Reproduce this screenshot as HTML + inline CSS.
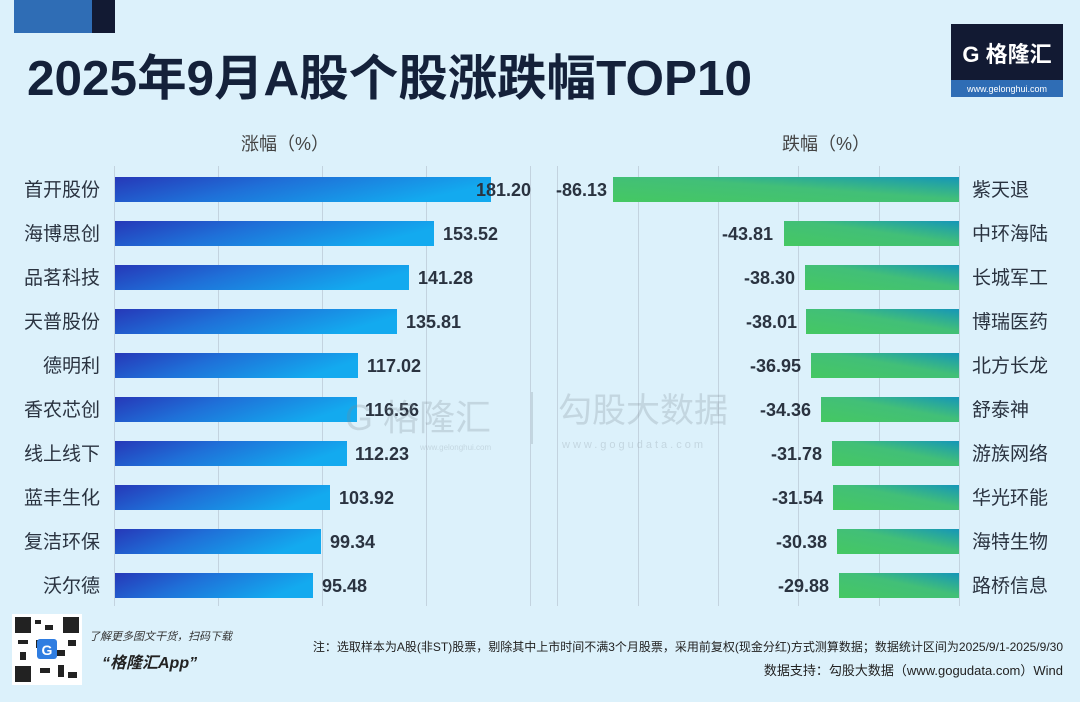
<!DOCTYPE html>
<html><head><meta charset="utf-8"><style>
html,body{margin:0;padding:0;background:#dcf1fb;}
svg{display:block;font-family:"Liberation Sans","Noto Sans CJK SC",sans-serif;}
</style></head><body>
<svg width="1080" height="702" viewBox="0 0 1080 702" xmlns="http://www.w3.org/2000/svg">
<defs>
<linearGradient id="gb" x1="0" y1="0" x2="1" y2="0.3">
<stop offset="0" stop-color="#2638b8"/><stop offset="0.45" stop-color="#1f70d8"/><stop offset="1" stop-color="#13aaef"/></linearGradient>
<linearGradient id="gg" x1="0" y1="1" x2="1" y2="0">
<stop offset="0" stop-color="#45c862"/><stop offset="0.55" stop-color="#42bf78"/><stop offset="1" stop-color="#1596b8"/></linearGradient>
</defs>
<rect width="1080" height="702" fill="#dcf1fb"/>
<rect x="14" y="0" width="78" height="33" fill="#2f6db5"/>
<rect x="92" y="0" width="23" height="33" fill="#121a33"/>
<text x="27" y="95" font-size="49" font-weight="bold" fill="#14213a" textLength="725" lengthAdjust="spacingAndGlyphs">2025年9月A股个股涨跌幅TOP10</text>
<rect x="951" y="24" width="112" height="56" fill="#121a33"/>
<rect x="951" y="80" width="112" height="17" fill="#2f6db5"/>
<text x="1007" y="62" font-size="22" font-weight="bold" fill="#fff" text-anchor="middle">G 格隆汇</text>
<text x="1007" y="92" font-size="9" fill="#fff" text-anchor="middle">www.gelonghui.com</text>
<text x="285" y="150" font-size="18" fill="#444" text-anchor="middle">涨幅（%）</text>
<text x="826" y="150" font-size="18" fill="#444" text-anchor="middle">跌幅（%）</text>
<g stroke="#c3d3df" stroke-width="1">
<line x1="114.5" y1="166" x2="114.5" y2="606"/><line x1="218.5" y1="166" x2="218.5" y2="606"/><line x1="322.5" y1="166" x2="322.5" y2="606"/><line x1="426.5" y1="166" x2="426.5" y2="606"/><line x1="530.5" y1="166" x2="530.5" y2="606"/>
<line x1="557.5" y1="166" x2="557.5" y2="606"/><line x1="638.5" y1="166" x2="638.5" y2="606"/><line x1="718.5" y1="166" x2="718.5" y2="606"/><line x1="798.5" y1="166" x2="798.5" y2="606"/><line x1="879.5" y1="166" x2="879.5" y2="606"/><line x1="959.5" y1="166" x2="959.5" y2="606"/>
</g>
<g font-size="19" fill="#2a3340">
<g text-anchor="end">
<text x="100" y="196">首开股份</text><text x="100" y="240">海博思创</text><text x="100" y="284">品茗科技</text><text x="100" y="328">天普股份</text><text x="100" y="372">德明利</text><text x="100" y="416">香农芯创</text><text x="100" y="460">线上线下</text><text x="100" y="504">蓝丰生化</text><text x="100" y="548">复洁环保</text><text x="100" y="592">沃尔德</text>
</g>
<text x="972" y="196">紫天退</text><text x="972" y="240">中环海陆</text><text x="972" y="284">长城军工</text><text x="972" y="328">博瑞医药</text><text x="972" y="372">北方长龙</text><text x="972" y="416">舒泰神</text><text x="972" y="460">游族网络</text><text x="972" y="504">华光环能</text><text x="972" y="548">海特生物</text><text x="972" y="592">路桥信息</text>
</g>
<g fill="url(#gb)">
<rect x="115" y="177" width="376" height="25"/><rect x="115" y="221" width="319" height="25"/><rect x="115" y="265" width="294" height="25"/><rect x="115" y="309" width="282" height="25"/><rect x="115" y="353" width="243" height="25"/><rect x="115" y="397" width="242" height="25"/><rect x="115" y="441" width="232" height="25"/><rect x="115" y="485" width="215" height="25"/><rect x="115" y="529" width="206" height="25"/><rect x="115" y="573" width="198" height="25"/>
</g>
<g fill="url(#gg)">
<rect x="613" y="177" width="346" height="25"/><rect x="784" y="221" width="175" height="25"/><rect x="805" y="265" width="154" height="25"/><rect x="806" y="309" width="153" height="25"/><rect x="811" y="353" width="148" height="25"/><rect x="821" y="397" width="138" height="25"/><rect x="832" y="441" width="127" height="25"/><rect x="833" y="485" width="126" height="25"/><rect x="837" y="529" width="122" height="25"/><rect x="839" y="573" width="120" height="25"/>
</g>
<g font-size="18" fill="#2a3340" font-weight="bold">
<text x="476" y="196">181.20</text><text x="443" y="240">153.52</text><text x="418" y="284">141.28</text><text x="406" y="328">135.81</text><text x="367" y="372">117.02</text><text x="365" y="416">116.56</text><text x="355" y="460">112.23</text><text x="339" y="504">103.92</text><text x="330" y="548">99.34</text><text x="322" y="592">95.48</text>
<g text-anchor="end">
<text x="607" y="196">-86.13</text><text x="773" y="240">-43.81</text><text x="795" y="284">-38.30</text><text x="797" y="328">-38.01</text><text x="801" y="372">-36.95</text><text x="811" y="416">-34.36</text><text x="822" y="460">-31.78</text><text x="823" y="504">-31.54</text><text x="827" y="548">-30.38</text><text x="829" y="592">-29.88</text>
</g></g>
<g opacity="0.25" fill="#7d8a94">
<text x="345" y="430" font-size="36">G 格隆汇</text>
<text x="420" y="450" font-size="8">www.gelonghui.com</text>
<text x="558" y="422" font-size="34">勾股大数据</text>
<text x="562" y="448" font-size="11" letter-spacing="3">www.gogudata.com</text>
<rect x="531" y="392" width="2" height="52"/>
</g>
<rect x="12" y="614" width="70" height="71" fill="#fff"/>
<g fill="#222">
<rect x="15" y="617" width="16" height="16"/><rect x="63" y="617" width="16" height="16"/><rect x="15" y="666" width="16" height="16"/>
<rect x="35" y="620" width="6" height="4"/><rect x="45" y="625" width="8" height="5"/><rect x="36" y="640" width="5" height="8"/><rect x="18" y="640" width="10" height="4"/><rect x="55" y="650" width="10" height="6"/><rect x="68" y="640" width="8" height="6"/><rect x="40" y="668" width="10" height="5"/><rect x="58" y="665" width="6" height="12"/><rect x="68" y="672" width="9" height="6"/><rect x="20" y="652" width="6" height="8"/>
</g>
<rect x="37" y="639" width="20" height="20" rx="3" fill="#2f7de1"/>
<text x="47" y="655" font-size="14" fill="#fff" font-weight="bold" text-anchor="middle">G</text>
<text x="89" y="640" font-size="11" font-style="italic" fill="#333">了解更多图文干货，扫码下载</text>
<text x="102" y="668" font-size="16" font-style="italic" font-weight="bold" fill="#222">“格隆汇App”</text>
<text x="1063" y="651" font-size="12" fill="#222" text-anchor="end">注：选取样本为A股(非ST)股票，剔除其中上市时间不满3个月股票，采用前复权(现金分红)方式测算数据；数据统计区间为2025/9/1-2025/9/30</text>
<text x="1063" y="675" font-size="13" fill="#222" text-anchor="end">数据支持：勾股大数据（www.gogudata.com）Wind</text>
</svg>
</body></html>
